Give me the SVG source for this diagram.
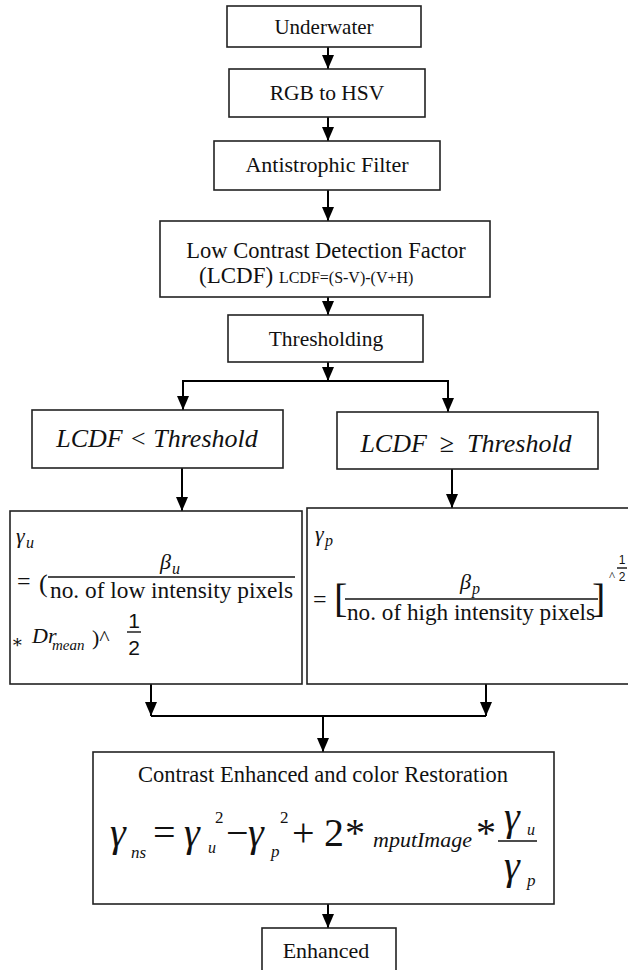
<svg xmlns="http://www.w3.org/2000/svg" width="628" height="970" viewBox="0 0 628 970">
<style>
.box{fill:#fff;stroke:#222;stroke-width:1.6}
.t{font-family:'Liberation Serif','Times New Roman',Tinos,'DejaVu Serif',serif;fill:#111}
.c{text-anchor:middle}
.i{font-style:italic}
.s{font-family:'Liberation Sans',Arial,'DejaVu Sans',sans-serif;fill:#111}
.ln{fill:none;stroke:#000;stroke-width:2}
.ar{fill:none;stroke:#000;stroke-width:2;marker-end:url(#ah)}
.bar{stroke:#111;stroke-width:1.4}
</style>
<defs>
<marker id="ah" viewBox="0 0 14 12" refX="14" refY="6" markerWidth="14" markerHeight="12" markerUnits="userSpaceOnUse" orient="auto">
<path d="M0,0 L14,6 L0,12 z" fill="#000"/>
</marker>
</defs>
<rect width="628" height="970" fill="#fff"/>

<g id="connectors">
<line class="ar" x1="328" y1="47" x2="328" y2="69"/>
<line class="ar" x1="328" y1="117" x2="328" y2="141"/>
<line class="ar" x1="328" y1="190" x2="328" y2="221"/>
<line class="ar" x1="328" y1="297" x2="328" y2="315"/>
<line class="ar" x1="328" y1="362" x2="328" y2="381"/>
<polyline class="ln" points="183,381 448,381"/>
<line class="ar" x1="183" y1="380" x2="183" y2="410"/>
<line class="ar" x1="448" y1="380" x2="448" y2="412"/>
<line class="ar" x1="182" y1="468" x2="182" y2="511"/>
<line class="ar" x1="452" y1="469" x2="452" y2="508"/>
<line class="ar" x1="151" y1="684" x2="151" y2="716"/>
<line class="ar" x1="486" y1="684" x2="486" y2="716"/>
<line class="ln" x1="151" y1="716" x2="486" y2="716"/>
<line class="ar" x1="323" y1="715" x2="323" y2="752"/>
<line class="ar" x1="328" y1="904" x2="328" y2="928"/>
</g>

<g id="underwater">
<rect class="box" x="227" y="6" width="194" height="41"/>
<text class="t c" x="324" y="34" font-size="21">Underwater</text>
</g>

<g id="rgb2hsv">
<rect class="box" x="229" y="69" width="196" height="48"/>
<text class="t c" x="327" y="100" font-size="21.5">RGB to HSV</text>
</g>

<g id="filter">
<rect class="box" x="214" y="141" width="226" height="49"/>
<text class="t c" x="327" y="172" font-size="22">Antistrophic Filter</text>
</g>

<g id="lcdf">
<rect class="box" x="160" y="221" width="330" height="76"/>
<text class="t c" x="326" y="258" font-size="22.5">Low Contrast Detection Factor</text>
<text class="t" x="199" y="283" font-size="23">(LCDF) <tspan font-size="16">LCDF=(S-V)-(V+H)</tspan></text>
</g>

<g id="thresholding">
<rect class="box" x="228" y="315" width="195" height="47"/>
<text class="t c" x="326" y="346" font-size="21.5">Thresholding</text>
</g>

<g id="lcdf-lt">
<rect class="box" x="32" y="410" width="251" height="58"/>
<text class="t i c" x="157" y="447" font-size="26">LCDF &lt; Threshold</text>
</g>

<g id="lcdf-ge">
<rect class="box" x="337" y="412" width="261" height="57"/>
<text class="t i c" x="466" y="452" font-size="26" xml:space="preserve">LCDF  ≥  Threshold</text>
</g>

<g id="gamma-u">
<rect class="box" x="10" y="511" width="292" height="173"/>
<text class="t i" x="16" y="543" font-size="22">γ</text>
<text class="t i" x="26" y="548" font-size="16">u</text>
<text class="t" x="17" y="589" font-size="24">=</text>
<text class="t" x="39" y="592" font-size="26">(</text>
<text class="t i" x="160" y="569" font-size="22">β</text>
<text class="t i" x="172" y="574" font-size="16">u</text>
<line class="bar" x1="48" y1="577" x2="295" y2="577"/>
<text class="t" x="50" y="598" font-size="23" textLength="243" lengthAdjust="spacingAndGlyphs">no. of low intensity pixels</text>
<text class="t" x="11" y="648" font-size="18">∗</text>
<text class="t i" x="32" y="643" font-size="22">Dr</text>
<text class="t i" x="52" y="650" font-size="15">mean</text>
<text class="t" x="92" y="645" font-size="22">)^</text>
<text class="s c" x="134" y="628" font-size="21">1</text>
<line class="bar" x1="127" y1="632" x2="141" y2="632"/>
<text class="s c" x="134" y="655" font-size="21">2</text>
</g>

<g id="gamma-p">
<rect class="box" x="307" y="508" width="330" height="176"/>
<text class="t i" x="315" y="541" font-size="22">γ</text>
<text class="t i" x="325" y="546" font-size="16">p</text>
<text class="t" x="313" y="607" font-size="24">=</text>
<text class="t" x="334" y="612" font-size="40">[</text>
<text class="t i" x="460" y="589" font-size="22">β</text>
<text class="t i" x="472" y="594" font-size="16">p</text>
<line class="bar" x1="345" y1="599" x2="598" y2="599"/>
<text class="t" x="347" y="620" font-size="23" textLength="248" lengthAdjust="spacingAndGlyphs">no. of high intensity pixels</text>
<text class="t" x="592" y="612" font-size="40">]</text>
<text class="t" x="609" y="580" font-size="13">^</text>
<text class="s c" x="622" y="564" font-size="12">1</text>
<line class="bar" x1="617" y1="568" x2="627" y2="568"/>
<text class="s c" x="622" y="581" font-size="12">2</text>
</g>

<g id="contrast">
<rect class="box" x="93" y="752" width="461" height="152"/>
<text class="t c" x="323" y="782" font-size="22.5">Contrast Enhanced and color Restoration</text>
<text class="t i" x="110" y="846" font-size="40">γ</text>
<text class="t i" x="131" y="858" font-size="17">ns</text>
<text class="t" x="153" y="846" font-size="40">=</text>
<text class="t i" x="184" y="846" font-size="40">γ</text>
<text class="t i" x="208" y="853" font-size="16">u</text>
<text class="t" x="215" y="823" font-size="17">2</text>
<text class="t" x="226" y="846" font-size="40">−</text>
<text class="t i" x="248" y="846" font-size="40">γ</text>
<text class="t i" x="271" y="857" font-size="17">p</text>
<text class="t" x="280" y="823" font-size="17">2</text>
<text class="t" x="292" y="846" font-size="40">+</text>
<text class="t" x="324" y="846" font-size="40">2</text>
<text class="t" x="345" y="846" font-size="40">*</text>
<text class="t i" x="373" y="847" font-size="22">mputImage</text>
<text class="t" x="476" y="846" font-size="40">*</text>
<text class="t i" x="504" y="830" font-size="40">γ</text>
<text class="t i" x="527" y="835" font-size="16">u</text>
<line class="bar" x1="498" y1="841" x2="537" y2="841"/>
<text class="t i" x="504" y="879" font-size="40">γ</text>
<text class="t i" x="527" y="886" font-size="17">p</text>
</g>

<g id="enhanced">
<rect class="box" x="262" y="928" width="134" height="46"/>
<text class="t c" x="326" y="958" font-size="22">Enhanced</text>
</g>
</svg>
